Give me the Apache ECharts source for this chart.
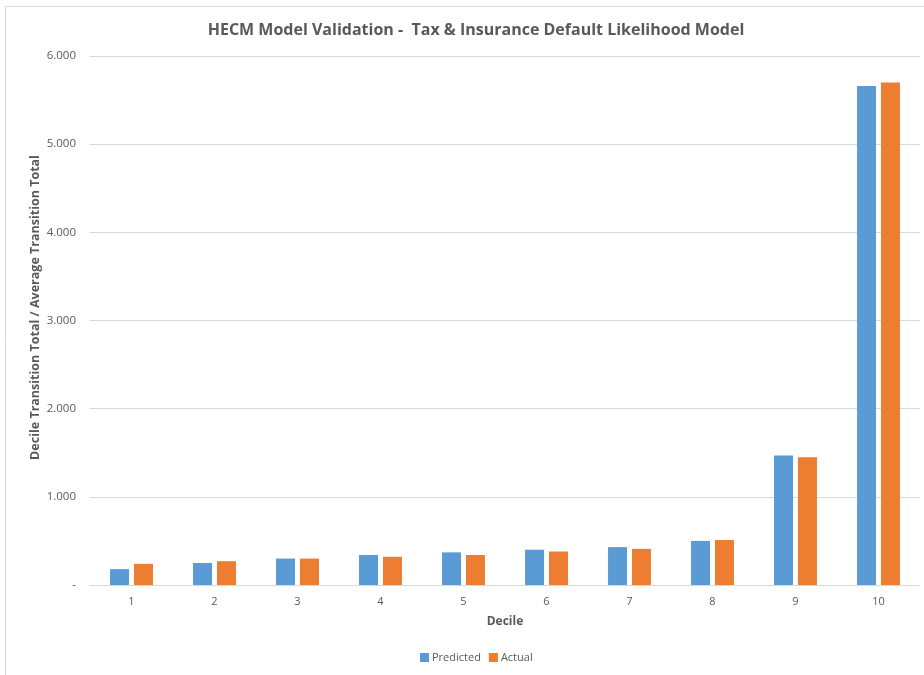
<!DOCTYPE html>
<html>
<head>
<meta charset="utf-8">
<script src="https://cdn.jsdelivr.net/npm/echarts@6/dist/echarts.min.js"></script>
<style>
html,body{margin:0;padding:0;background:#fff;}
#chart{width:924px;height:675px;}
</style>
</head>
<body>
<div id="chart"></div>
<script>
// 十分位
var deciles = ['1', '2', '3', '4', '5', '6', '7', '8', '9', '10'];
var predicted = [0.18, 0.25, 0.30, 0.34, 0.37, 0.40, 0.43, 0.50, 1.47, 5.66];
var actual = [0.24, 0.27, 0.30, 0.32, 0.34, 0.38, 0.41, 0.51, 1.45, 5.70];
var yTicks = [0, 1, 2, 3, 4, 5, 6];

var font = 'Open Sans';
var myChart = echarts.init(document.getElementById('chart'));
var option = {
	animation: false,
	graphic: [{
		type: 'rect',
		shape: {x: 5.5, y: 6.5, width: 940, height: 700},
		style: {fill: 'none', stroke: '#d9d9d9', lineWidth: 1},
		silent: true
	}],
	title: {
		text: 'HECM Model Validation -  Tax & Insurance Default Likelihood Model',
		left: 471,
		textAlign: 'center',
		top: 17,
		textStyle: {
			color: '#595959',
			fontSize: 16,
			fontWeight: 'bold',
			fontFamily: font
		}
	},
	legend: {
		data: ['Predicted', 'Actual'],
		left: 415,
		top: 647,
		itemWidth: 9,
		itemHeight: 9,
		itemGap: 8,
		icon: 'rect',
		textStyle: {color: '#595959', fontSize: 11, fontFamily: font, padding: [0, 0, 0, -2]}
	},
	grid: {
		left: 90,
		right: 4,
		top: 56,
		bottom: 90
	},
	xAxis: {
		type: 'category',
		data: deciles,
		name: 'Decile',
		nameLocation: 'middle',
		nameGap: 31,
		nameTextStyle: {color: '#595959', fontSize: 12, fontWeight: 'bold', fontFamily: font},
		axisLine: {lineStyle: {color: '#d9d9d9'}},
		axisTick: {show: false},
		axisLabel: {color: '#595959', fontSize: 11, fontFamily: font, margin: 11}
	},
	yAxis: {
		type: 'value',
		min: yTicks[0],
		max: yTicks[yTicks.length - 1],
		interval: 1,
		name: 'Decile Transition Total / Average Transition Total',
		nameLocation: 'middle',
		nameGap: 48,
		nameMoveOverlap: false,
		nameTextStyle: {color: '#595959', fontSize: 12.5, fontWeight: 'bold', fontFamily: font, padding: [0, 0, 0, 26]},
		axisLine: {show: false},
		axisTick: {show: false},
		splitLine: {lineStyle: {color: '#d9d9d9'}},
		axisLabel: {
			color: '#595959',
			fontSize: 11.5,
			fontFamily: font,
			margin: 14,
			formatter: function (v) {
				return v === 0 ? '-' : v.toFixed(3);
			}
		}
	},
	series: [{
		name: 'Predicted',
		type: 'bar',
		data: predicted,
		barWidth: 19,
		barGap: '26%',
		itemStyle: {color: '#5B9BD5'}
	}, {
		name: 'Actual',
		type: 'bar',
		data: actual,
		barWidth: 19,
		itemStyle: {color: '#ED7D31'}
	}]
};
myChart.setOption(option, true);
</script>
</body>
</html>
